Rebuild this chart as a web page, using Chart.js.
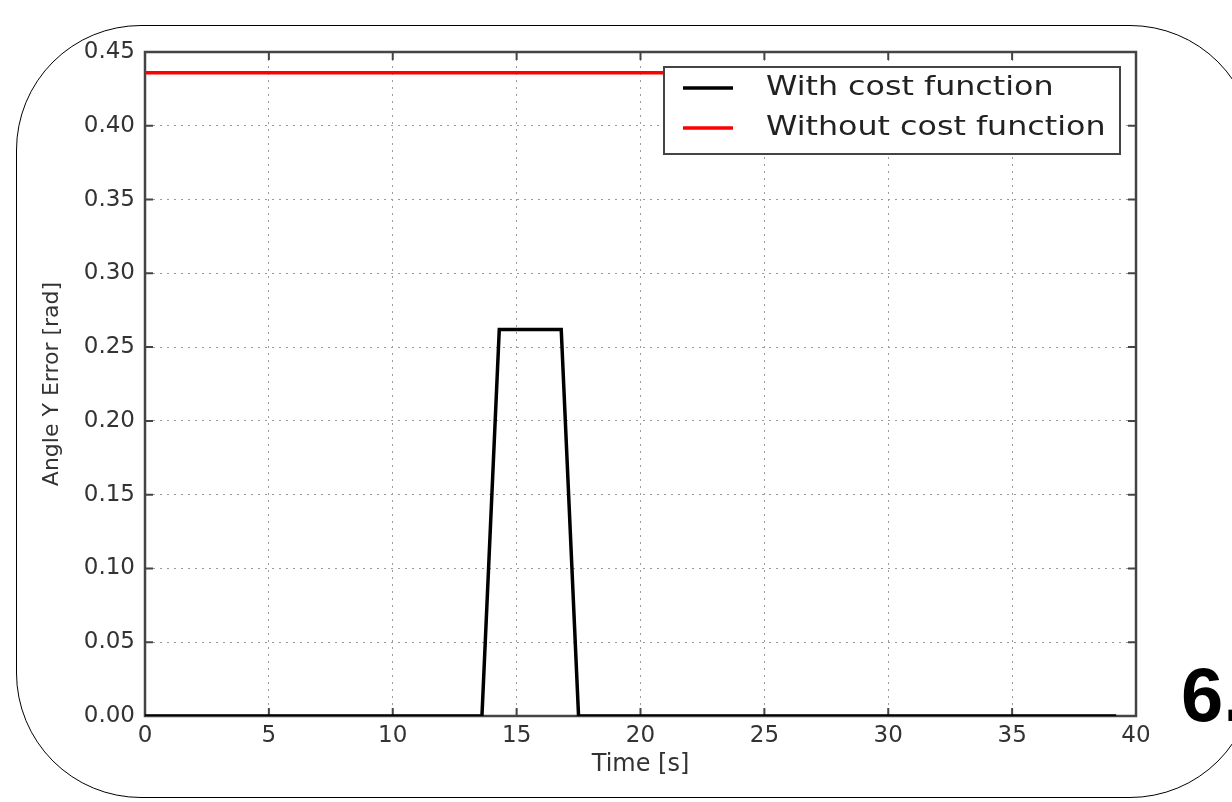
<!DOCTYPE html>
<html>
<head>
<meta charset="utf-8">
<script src="https://cdn.jsdelivr.net/npm/chart.js@4/dist/chart.umd.min.js"></script>
<style>
  html, body { margin: 0; padding: 0; background: #fff; }
  #wrap { position: relative; width: 1232px; height: 802px; overflow: hidden; }
  #frameBox {
    position: absolute; left: 16px; top: 25px; width: 1239px; height: 773px;
    box-sizing: border-box; border: 1.5px solid #000; border-radius: 125px;
    pointer-events: none;
  }
  #figNo {
    position: absolute; left: 1181px; top: 651px; line-height: 76px;
    font: bold 76px "Liberation Sans Narrow", "Liberation Sans", sans-serif; color: #000; white-space: nowrap;
  }
</style>
</head>
<body>
<div id="wrap">
  <canvas id="errChart"></canvas>
  <div id="frameBox"></div>
  <div id="figNo">6.</div>
</div>
<script>
// data
const timeWith = [0, 13.6, 14.3, 16.8, 17.5, 39.2];
const errorWith = [0, 0, 0.262, 0.262, 0, 0];
const timeWithout = [0, 39.2];
const errorWithout = [0.436, 0.436];
const xTicks = [0, 5, 10, 15, 20, 25, 30, 35, 40];
const yTicks = [0, 0.05, 0.10, 0.15, 0.20, 0.25, 0.30, 0.35, 0.40, 0.45];

const tickFont = { family: 'DejaVu Sans', size: 23 };

// matplotlib-like frame with inward ticks on all four sides
const frame = {
    id: 'frame',
    beforeDatasetsDraw(chart) {
        const { ctx, chartArea: a, scales: { x, y } } = chart;
        ctx.save();
        ctx.strokeStyle = '#444';
        ctx.lineWidth = 2.5;
        ctx.strokeRect(a.left, a.top, a.right - a.left, a.bottom - a.top);
        ctx.lineWidth = 2;
        ctx.beginPath();
        x.ticks.forEach(t => {
            const px = x.getPixelForValue(t.value);
            ctx.moveTo(px, a.bottom); ctx.lineTo(px, a.bottom - 8);
            ctx.moveTo(px, a.top); ctx.lineTo(px, a.top + 8);
        });
        y.ticks.forEach(t => {
            const py = y.getPixelForValue(t.value);
            ctx.moveTo(a.left, py); ctx.lineTo(a.left + 8, py);
            ctx.moveTo(a.right, py); ctx.lineTo(a.right - 8, py);
        });
        ctx.stroke();
        ctx.restore();
    }
};

// boxed legend inside the upper right of the plot
const boxLegend = {
    id: 'boxLegend',
    afterDraw(chart) {
        const { ctx, chartArea: a } = chart;
        const left = a.right - 472, top = a.top + 15, w = 456, h = 87;
        ctx.save();
        ctx.fillStyle = '#fff';
        ctx.fillRect(left, top, w, h);
        ctx.strokeStyle = '#444';
        ctx.lineWidth = 2;
        ctx.strokeRect(left, top, w, h);
        chart.data.datasets.forEach((ds, i) => {
            const cy = top + 21 + i * 40;
            ctx.strokeStyle = ds.borderColor;
            ctx.lineWidth = 3.5;
            ctx.beginPath();
            ctx.moveTo(left + 19, cy);
            ctx.lineTo(left + 69, cy);
            ctx.stroke();
            ctx.save();
            ctx.translate(left + 102, cy);
            ctx.scale(1.22, 1);
            ctx.fillStyle = '#222';
            ctx.font = '26px "DejaVu Sans"';
            ctx.textBaseline = 'middle';
            ctx.fillText(ds.label, 0, 0);
            ctx.restore();
        });
        ctx.restore();
    }
};

const ctx = document.getElementById('errChart').getContext('2d');
new Chart(ctx, {
    type: 'line',
    data: {
        datasets: [
            {
                label: 'With cost function',
                data: timeWith.map((t, i) => ({ x: t, y: errorWith[i] })),
                borderColor: '#000000', borderWidth: 3.5, pointRadius: 0, fill: false, tension: 0
            },
            {
                label: 'Without cost function',
                data: timeWithout.map((t, i) => ({ x: t, y: errorWithout[i] })),
                borderColor: '#ff0000', borderWidth: 3.5, pointRadius: 0, fill: false, tension: 0
            }
        ]
    },
    options: {
        responsive: true,
        maintainAspectRatio: false,
        animation: false,
        layout: { padding: { left: 0, right: 96, top: 52, bottom: 0 } },
        plugins: { legend: { display: false }, tooltip: { enabled: false } },
        scales: {
            x: {
                type: 'linear', min: 0, max: 40,
                afterBuildTicks: s => { s.ticks = xTicks.map(v => ({ value: v })); },
                afterFit: s => { s.height = 86; },
                grid: { color: '#9a9a9a', lineWidth: 1, drawTicks: false },
                border: { display: true, color: '#444', width: 2, dash: [2, 5] },
                ticks: { padding: 6, color: '#333', font: tickFont, maxRotation: 0, autoSkip: false },
                title: {
                    display: true, text: 'Time [s]', color: '#333',
                    font: { family: 'DejaVu Sans', size: 24 },
                    padding: { top: 23, bottom: 23 }
                }
            },
            y: {
                type: 'linear', min: 0, max: 0.45,
                afterBuildTicks: s => { s.ticks = yTicks.map(v => ({ value: v })); },
                afterFit: s => { s.width = 145; },
                grid: { color: '#9a9a9a', lineWidth: 1, drawTicks: false },
                border: { display: true, color: '#444', width: 2, dash: [2, 5] },
                ticks: { padding: 10, color: '#333', font: tickFont, callback: v => v.toFixed(2) },
                title: {
                    display: true, text: 'Angle Y Error [rad]', color: '#333',
                    font: { family: 'DejaVu Sans', size: 22 },
                    padding: { top: 39, bottom: 39 }
                }
            }
        }
    },
    plugins: [frame, boxLegend]
});
</script>
</body>
</html>
